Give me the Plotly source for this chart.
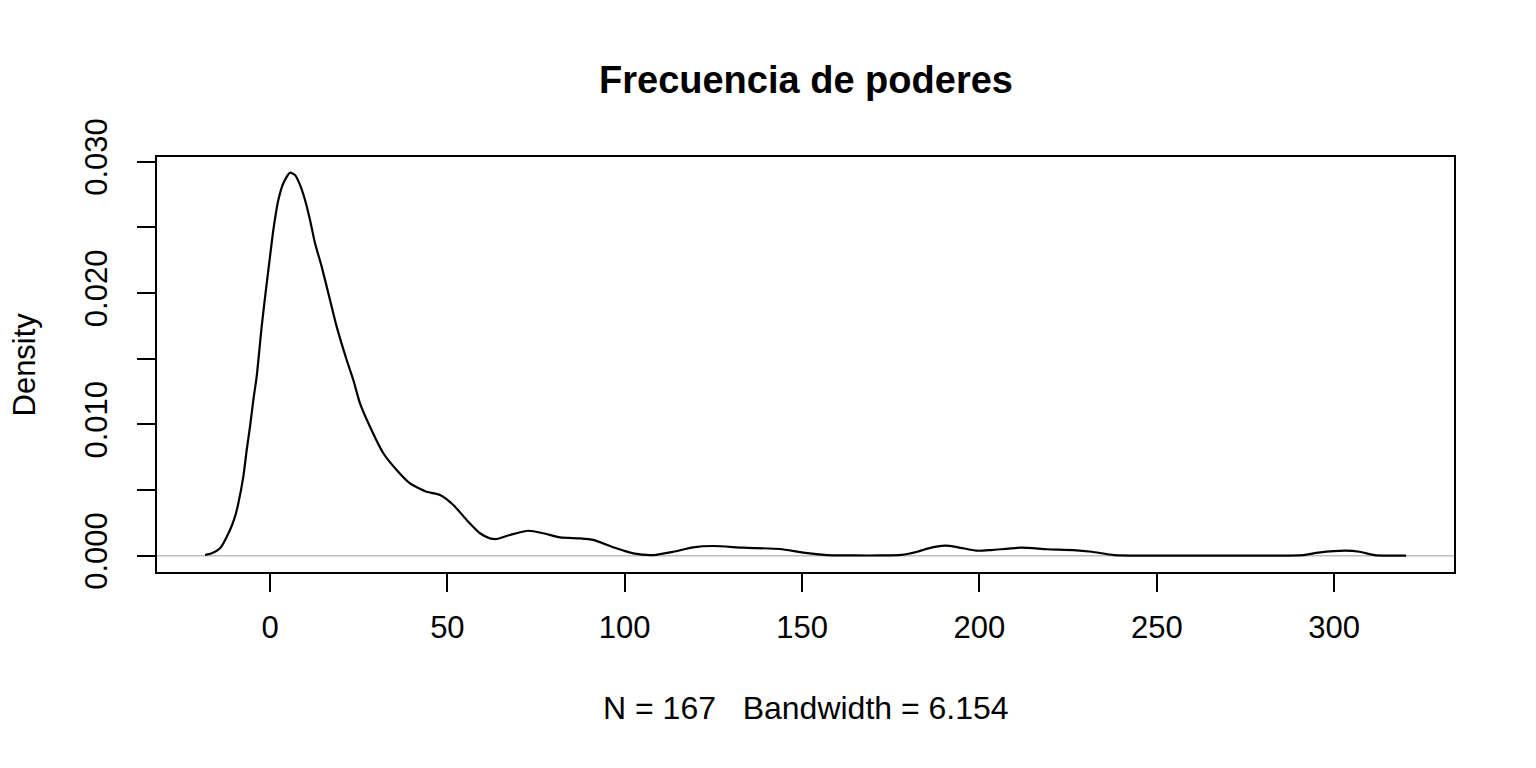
import plotly.graph_objects as go

# Density curve points
x_vals = [-18.3, -16.4, -14.1, -11.28, -9.87, -8.93, -7.52, -6.57, -5.64, -4.70, -3.76,
          -2.35, -0.93, 0.0, 0.94, 2.35, 3.76, 5.64, 7.05, 8.46, 9.87, 11.28, 12.69,
          14.57, 16.92, 18.8, 21.62, 23.49, 25.37, 28.19, 31.95, 35.7, 39.47, 44.17,
          47.93, 51.69, 55.45, 59.2, 62.0, 63.96, 67.66, 72.83, 77.05, 81.76, 87.4,
          91.15, 96.79, 102.4, 108.06, 113.7, 119.3, 125.0, 133.4, 143.8, 150.3, 157.0,
          165.0, 172.0, 178.0, 182.5, 185.6, 190.3, 194.0, 199.2, 203.4, 211.8, 219.1,
          226.5, 231.7, 238.0, 250.0, 265.0, 280.0, 291.4, 295.6, 303.0, 307.2, 311.4,
          316.0, 320.3]
y_vals = [0.00005, 0.00018, 0.00056, 0.00196, 0.00297, 0.00399, 0.00602, 0.00805,
          0.00982, 0.01186, 0.01363, 0.01744, 0.02074, 0.02277, 0.0248, 0.02708,
          0.02836, 0.02916, 0.02899, 0.02823, 0.02708, 0.02556, 0.02379, 0.02201,
          0.01947, 0.01744, 0.0149, 0.01338, 0.0116, 0.00982, 0.0078, 0.00653,
          0.00551, 0.00487, 0.00462, 0.00386, 0.00272, 0.00171, 0.00132, 0.00127,
          0.00158, 0.0019, 0.00171, 0.0014, 0.00132, 0.0012, 0.00064, 0.00018,
          0.00005, 0.0003, 0.00064, 0.00074, 0.00061, 0.00051, 0.00023, 0.00005,
          0.00002, 0.00002, 0.00006, 0.0003, 0.00056, 0.00076, 0.00064, 0.00038,
          0.00043, 0.00061, 0.00049, 0.00043, 0.0003, 0.00005, 0.00001, 0.00001,
          0.00001, 0.00005, 0.00023, 0.00038, 0.0003, 0.00005, 0.00001, 0.0]

x_ticks = [0, 50, 100, 150, 200, 250, 300]
y_ticks = [0.0, 0.005, 0.010, 0.015, 0.020, 0.025, 0.030]
y_ticktext = ["0.000", "", "0.010", "", "0.020", "", "0.030"]

title_text = "Frecuencia de poderes"
sub_text = "N = 167   Bandwidth = 6.154"
ylab_text = "Density"

FONT = "Liberation Sans, Arial, sans-serif"

fig = go.Figure()
fig.add_trace(go.Scatter(x=x_vals, y=y_vals, mode="lines",
                         line=dict(color="black", width=2.2, shape="spline", smoothing=0.6),
                         hoverinfo="skip", showlegend=False))

fig.add_shape(type="line", xref="paper", yref="y", x0=0, x1=1, y0=0, y1=0,
              line=dict(color="#BEBEBE", width=1.5), layer="below")

fig.update_layout(
    width=1536, height=768,
    margin=dict(l=157, r=82, t=157, b=196),
    plot_bgcolor="white", paper_bgcolor="white",
    font=dict(family=FONT, size=31, color="black"),
    showlegend=False,
    xaxis=dict(range=[-31.86, 333.8], tickvals=x_ticks, ticks="outside", ticklen=18,
               tickwidth=2, tickcolor="black", showline=True, mirror=True,
               linecolor="black", linewidth=2, showgrid=False, zeroline=False,
               tickfont=dict(size=31), ticklabelstandoff=9),
    yaxis=dict(range=[-0.001241, 0.030358], tickvals=y_ticks, ticktext=y_ticktext,
               ticks="outside", ticklen=18, tickwidth=2, tickcolor="black",
               showline=True, mirror=True, linecolor="black", linewidth=2,
               showgrid=False, zeroline=False, tickangle=-90,
               tickfont=dict(size=31), ticklabelstandoff=18),
    annotations=[
        dict(text="<b>" + title_text + "</b>", xref="paper", yref="paper",
             x=0.5, y=(572 - 80) / 415, xanchor="center", yanchor="middle",
             showarrow=False, font=dict(size=38)),
        dict(text=sub_text, xref="paper", yref="paper", x=0.5, y=(572 - 708) / 415,
             xanchor="center", yanchor="middle", showarrow=False, font=dict(size=32)),
        dict(text=ylab_text, xref="paper", yref="paper", x=(24 - 157) / 1297,
             y=0.5, xanchor="center", yanchor="middle", textangle=-90,
             showarrow=False, font=dict(size=31)),
    ],
)

fig.write_html("out.html", config={"displayModeBar": False},
               post_script="document.body.style.margin='0';")
